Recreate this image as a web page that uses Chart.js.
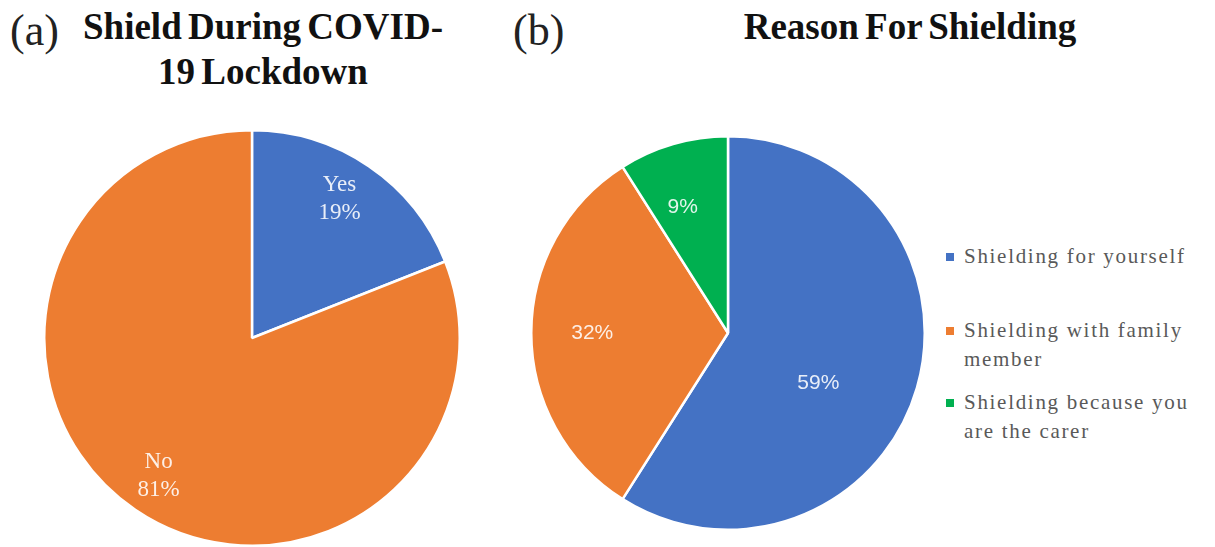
<!DOCTYPE html>
<html>
<head>
<meta charset="utf-8">
<script src="https://cdn.jsdelivr.net/npm/chart.js@4/dist/chart.umd.min.js"></script>
<style>
  html, body { margin: 0; padding: 0; background: #fff; }
  body { width: 1215px; height: 547px; position: relative; overflow: hidden; font-family: "Liberation Serif", "DejaVu Serif", serif; }
  .tag { position: absolute; font-size: 44px; color: #222; line-height: 1; }
  .title { position: absolute; font-weight: bold; font-size: 37px; color: #111; text-align: center; line-height: 45px; word-spacing: -3px; }
  #pieA { position: absolute; left: 43px; top: 129px; }
  #pieB { position: absolute; left: 530px; top: 135px; }
  #legend { position: absolute; left: 946px; top: 242px; width: 269px; color: #595959; font-size: 21px; line-height: 29px; letter-spacing: 1.7px; white-space: nowrap; }
  #legend .item { position: relative; padding-left: 18px; margin-bottom: 14px; }
  #legend .sw { position: absolute; left: 0; top: 11px; width: 8px; height: 8px; }
</style>
</head>
<body>
<div class="tag" style="left:10px; top:9px;">(a)</div>
<div class="title" style="left:73px; top:4px; width:380px;">Shield During COVID-<br>19 Lockdown</div>
<div class="tag" style="left:513px; top:9px;">(b)</div>
<div class="title" style="left:720px; top:4px; width:380px;">Reason For Shielding</div>

<canvas id="pieA" width="418" height="418"></canvas>
<canvas id="pieB" width="396" height="396"></canvas>
<div id="legend"></div>

<script>
// Panel (a): shielding during lockdown
const shieldLabels = ['Yes', 'No'];
const shieldValues = [19, 81];
const shieldColors = ['#4472C4', '#ED7D31'];

// Panel (b): reason for shielding
const reasonLabels = ['Shielding for yourself', 'Shielding with family member', 'Shielding because you are the carer'];
const reasonValues = [59, 32, 9];
const reasonColors = ['#4472C4', '#ED7D31', '#00B050'];

// Writes value labels inside each slice at a fraction of the radius
const sliceLabels = {
  id: 'sliceLabels',
  afterDatasetsDraw(chart, args, opts) {
    const ctx = chart.ctx;
    const meta = chart.getDatasetMeta(0);
    const values = chart.data.datasets[0].data;
    const names = chart.data.labels;
    ctx.save();
    ctx.fillStyle = opts.color;
    ctx.font = opts.font;
    ctx.textAlign = 'center';
    ctx.textBaseline = 'middle';
    meta.data.forEach((arc, i) => {
      const mid = (arc.startAngle + arc.endAngle) / 2 + (opts.turn[i] || 0) * Math.PI / 180;
      const r = arc.outerRadius * opts.radius[i];
      const x = arc.x + Math.cos(mid) * r;
      const y = arc.y + Math.sin(mid) * r;
      const lines = opts.showName ? [names[i], values[i] + '%'] : [values[i] + '%'];
      const lh = opts.lineHeight;
      lines.forEach((t, k) => {
        ctx.fillText(t, x, y + (k - (lines.length - 1) / 2) * lh);
      });
    });
    ctx.restore();
  }
};

function makePie(id, labels, values, colors, labelOpts) {
  return new Chart(document.getElementById(id), {
    type: 'pie',
    data: {
      labels: labels,
      datasets: [{
        data: values,
        backgroundColor: colors,
        borderColor: '#ffffff',
        borderWidth: 2.5
      }]
    },
    options: {
      responsive: false,
      animation: false,
      layout: { padding: 0 },
      plugins: {
        legend: { display: false },
        tooltip: { enabled: false },
        title: { display: false },
        sliceLabels: labelOpts
      }
    },
    plugins: [sliceLabels]
  });
}

makePie('pieA', shieldLabels, shieldValues, shieldColors, {
  color: 'rgba(255,255,255,0.88)',
  font: '23px "Liberation Serif", serif',
  radius: [0.79, 0.8],
  turn: [-2, 0],
  showName: true,
  lineHeight: 28
});

makePie('pieB', reasonLabels, reasonValues, reasonColors, {
  color: 'rgba(255,255,255,0.88)',
  font: '21px "Liberation Sans", "DejaVu Sans", sans-serif',
  radius: [0.525, 0.69, 0.68],
  turn: [12.8, 0, -3.6],
  showName: false,
  lineHeight: 22
});

// Legend for panel (b)
const legend = document.getElementById('legend');
const legendLines = [['Shielding for yourself'], ['Shielding with family', 'member'], ['Shielding because you', 'are the carer']];
reasonLabels.forEach((name, i) => {
  const item = document.createElement('div');
  item.className = 'item';
  if (i === 0) item.style.marginBottom = '45px';
  const sw = document.createElement('span');
  sw.className = 'sw';
  sw.style.background = reasonColors[i];
  item.appendChild(sw);
  const txt = document.createElement('span');
  txt.innerHTML = legendLines[i].join('<br>');
  item.appendChild(txt);
  legend.appendChild(item);
});
</script>
</body>
</html>
